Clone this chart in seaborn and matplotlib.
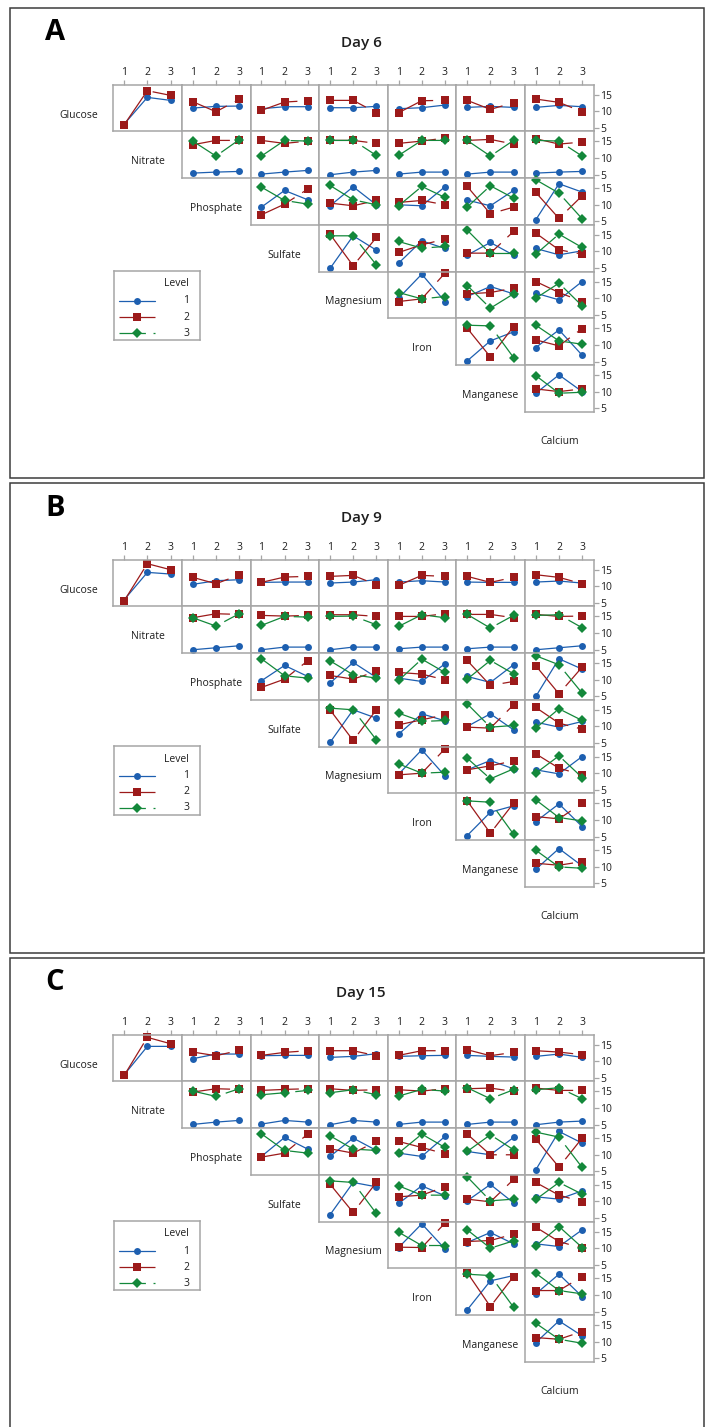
import matplotlib
matplotlib.use("Agg")
import matplotlib.pyplot as plt
import pandas as pd
import seaborn as sns
from matplotlib.patches import Rectangle

sns.set_theme(style="white")
plt.rcParams["font.family"] = ["Open Sans", "DejaVu Sans"]
plt.rcParams["lines.scale_dashes"] = False

FACTORS = ["Glucose", "Nitrate", "Phosphate", "Sulfate", "Magnesium", "Iron", "Manganese", "Calcium"]
LEVELS = ["1", "2", "3"]
DAYS = ["Day 6", "Day 9", "Day 15"]
PANELS = ["A", "B", "C"]
Y_TICKS = [5, 10, 15]

# Mean response for every pair of factors.
# One array per (day, line factor). Each entry is one x-factor (the factors after the
# line factor, up to Calcium) and holds one series per level of the line factor,
# over x-factor levels 1, 2, 3.
DAY6_GLUCOSE = [
    [[6.2, 14.2, 13.3], [6.0, 16.2, 14.8]],
    [[11.0, 11.5, 11.6], [12.9, 9.9, 13.6]],
    [[10.8, 11.4, 11.4], [10.3, 12.8, 13.2]],
    [[11.1, 11.1, 11.5], [13.3, 13.3, 9.6]],
    [[10.8, 11.1, 11.9], [9.6, 13.2, 13.3]],
    [[11.2, 11.5, 11.2], [13.3, 10.6, 12.6]],
    [[11.2, 11.8, 11.4], [13.7, 12.7, 9.9]],
]
DAY6_NITRATE = [
    [[5.5, 5.8, 6.0], [14.0, 15.3, 15.3], [15.1, 10.6, 15.5]],
    [[5.2, 5.8, 6.3], [15.3, 14.4, 15.1], [10.6, 15.3, 15.1]],
    [[5.0, 5.8, 6.3], [15.3, 15.3, 14.4], [15.3, 15.3, 10.8]],
    [[5.2, 5.8, 5.8], [14.4, 15.1, 16.0], [10.8, 15.3, 15.3]],
    [[5.2, 5.8, 5.8], [15.3, 15.6, 14.2], [15.3, 10.6, 15.3]],
    [[5.5, 5.8, 6.0], [15.8, 14.2, 14.8], [15.3, 15.1, 10.6]],
]
DAY6_PHOSPHATE = [
    [[9.3, 14.3, 11.5], [7.0, 10.2, 14.7], [15.3, 11.3, 10.2]],
    [[9.7, 15.4, 10.0], [10.5, 9.7, 11.3], [15.8, 11.5, 10.0]],
    [[10.0, 9.7, 15.4], [10.7, 11.3, 10.0], [9.7, 15.5, 12.2]],
    [[11.4, 9.7, 14.3], [15.5, 7.3, 9.3], [9.3, 15.7, 12.0]],
    [[5.5, 16.3, 13.8], [13.7, 5.9, 12.7], [17.5, 13.5, 5.8]],
]
DAY6_SULFATE = [
    [[4.9, 14.7, 10.4], [15.2, 5.7, 14.2], [14.7, 14.7, 6.0]],
    [[6.5, 13.2, 10.9], [9.7, 12.0, 13.7], [13.0, 11.0, 11.5]],
    [[8.9, 12.7, 8.9], [9.5, 9.5, 16.0], [16.4, 9.4, 9.4]],
    [[10.9, 9.0, 10.2], [15.5, 10.5, 9.2], [9.2, 15.2, 11.2]],
]
DAY6_MAGNESIUM = [
    [[10.0, 17.2, 9.0], [9.0, 9.8, 17.5], [11.7, 9.8, 10.5]],
    [[10.5, 13.5, 11.3], [11.3, 11.7, 13.0], [13.8, 7.0, 11.3]],
    [[11.5, 9.5, 15.0], [15.0, 11.7, 9.0], [10.0, 14.5, 7.7]],
]
DAY6_IRON = [
    [[5.2, 11.2, 13.9], [15.0, 6.4, 15.5], [15.9, 15.7, 6.2]],
    [[9.2, 14.5, 6.9], [11.5, 9.7, 14.9], [15.9, 11.2, 10.2]],
]
DAY6_MANGANESE = [
    [[9.5, 15.0, 10.0], [10.8, 10.0, 10.8], [14.8, 9.5, 9.8]],
]

DAY9_GLUCOSE = [
    [[6.0, 14.2, 13.7], [5.7, 16.8, 15.0]],
    [[10.6, 11.7, 12.0], [12.7, 10.8, 13.4]],
    [[11.2, 11.3, 11.3], [11.2, 12.8, 13.0]],
    [[11.0, 11.3, 12.0], [13.0, 13.3, 10.5]],
    [[11.3, 11.7, 11.3], [10.3, 13.3, 13.0]],
    [[11.3, 11.2, 11.2], [13.0, 11.2, 12.7]],
    [[11.3, 11.6, 11.0], [13.5, 12.7, 10.8]],
]
DAY9_NITRATE = [
    [[5.0, 5.6, 6.2], [14.6, 15.8, 15.6], [14.6, 12.1, 15.8]],
    [[5.0, 5.8, 5.8], [15.3, 15.1, 15.3], [12.3, 15.0, 14.8]],
    [[5.0, 5.8, 5.8], [15.5, 15.5, 15.0], [15.0, 15.1, 12.5]],
    [[5.3, 5.8, 5.8], [15.0, 15.0, 15.8], [12.0, 15.5, 14.6]],
    [[5.3, 5.8, 5.8], [15.6, 15.6, 14.6], [15.6, 11.5, 15.3]],
    [[5.0, 5.6, 6.2], [15.6, 15.0, 15.1], [15.3, 15.5, 11.6]],
]
DAY9_PHOSPHATE = [
    [[9.7, 14.3, 11.0], [7.7, 10.2, 15.7], [16.3, 11.2, 10.5]],
    [[9.0, 15.2, 10.7], [11.3, 10.2, 12.5], [15.7, 11.5, 10.5]],
    [[10.5, 9.5, 14.8], [12.2, 11.7, 10.0], [9.8, 16.2, 12.2]],
    [[11.0, 9.2, 14.5], [15.8, 8.3, 9.5], [10.2, 15.8, 11.8]],
    [[5.0, 16.3, 13.2], [14.2, 5.8, 13.8], [17.2, 14.5, 6.0]],
]
DAY9_SULFATE = [
    [[5.2, 15.0, 12.5], [15.0, 5.8, 15.0], [15.5, 15.0, 6.0]],
    [[7.7, 13.8, 11.7], [10.5, 12.0, 13.5], [14.0, 11.5, 11.8]],
    [[10.0, 13.8, 9.0], [9.8, 9.5, 16.5], [16.8, 9.8, 10.3]],
    [[11.3, 9.8, 11.5], [15.7, 11.0, 9.2], [9.5, 15.3, 11.8]],
]
DAY9_MAGNESIUM = [
    [[9.7, 17.0, 9.2], [9.5, 10.0, 17.3], [12.8, 10.0, 10.3]],
    [[11.0, 13.8, 11.3], [11.0, 12.2, 13.7], [14.5, 8.3, 11.3]],
    [[11.0, 9.8, 15.0], [15.8, 11.5, 9.5], [10.0, 15.2, 8.7]],
]
DAY9_IRON = [
    [[5.3, 12.3, 14.2], [15.7, 6.0, 15.0], [15.7, 15.3, 5.7]],
    [[9.5, 14.8, 8.0], [11.0, 10.3, 15.0], [16.0, 10.7, 9.7]],
]
DAY9_MANGANESE = [
    [[9.2, 15.4, 10.2], [11.0, 10.4, 11.5], [14.9, 9.9, 9.5]],
]

DAY15_GLUCOSE = [
    [[6.0, 14.5, 14.5], [5.8, 17.2, 15.3]],
    [[10.8, 12.2, 12.2], [12.8, 11.7, 13.3]],
    [[11.7, 11.8, 11.8], [11.8, 12.7, 13.2]],
    [[11.2, 11.5, 12.3], [13.2, 13.2, 11.7]],
    [[11.5, 11.7, 11.8], [11.8, 13.2, 13.2]],
    [[11.8, 11.5, 11.3], [13.5, 11.7, 12.7]],
    [[11.5, 12.2, 11.2], [13.2, 12.8, 12.0]],
]
DAY15_NITRATE = [
    [[5.1, 5.8, 6.3], [14.8, 15.8, 15.6], [15.1, 13.5, 15.8]],
    [[5.2, 6.3, 5.8], [15.3, 15.6, 15.8], [14.0, 14.6, 15.3]],
    [[5.0, 6.3, 5.8], [15.8, 15.3, 15.5], [14.6, 15.5, 14.0]],
    [[5.1, 5.8, 5.8], [15.5, 15.1, 15.8], [13.6, 15.6, 15.1]],
    [[5.1, 5.8, 5.8], [15.8, 16.0, 15.0], [16.1, 12.8, 15.5]],
    [[5.0, 5.8, 6.1], [16.0, 15.3, 15.3], [15.5, 16.1, 12.8]],
]
DAY15_PHOSPHATE = [
    [[9.5, 15.2, 11.7], [9.3, 10.5, 16.2], [16.3, 11.3, 10.5]],
    [[9.5, 15.0, 11.3], [11.8, 10.5, 14.0], [15.7, 11.7, 11.3]],
    [[10.5, 9.5, 15.5], [14.0, 12.2, 10.3], [10.5, 16.2, 12.2]],
    [[11.0, 10.0, 15.2], [16.2, 10.0, 10.0], [11.0, 16.0, 11.5]],
    [[5.5, 17.0, 13.5], [14.7, 6.3, 15.0], [16.8, 15.3, 6.2]],
]
DAY15_SULFATE = [
    [[6.0, 15.7, 14.4], [15.2, 6.7, 15.7], [16.2, 15.7, 6.4]],
    [[9.4, 14.7, 11.7], [11.4, 11.9, 14.4], [14.7, 11.9, 11.9]],
    [[10.2, 15.1, 9.6], [10.7, 9.9, 16.6], [17.4, 10.2, 10.7]],
    [[11.4, 10.7, 13.2], [15.7, 11.9, 9.9], [10.6, 15.7, 12.2]],
]
DAY15_MAGNESIUM = [
    [[10.2, 17.3, 9.8], [10.3, 10.2, 17.5], [14.8, 10.8, 10.8]],
    [[11.7, 14.7, 11.3], [12.0, 12.3, 14.2], [15.5, 10.0, 12.2]],
    [[11.3, 10.5, 15.5], [16.3, 12.0, 10.0], [10.7, 16.5, 10.2]],
]
DAY15_IRON = [
    [[5.5, 14.2, 15.8], [16.7, 6.5, 15.5], [16.2, 15.8, 6.3]],
    [[10.3, 16.2, 9.5], [11.3, 11.3, 15.5], [16.5, 11.3, 10.3]],
]
DAY15_MANGANESE = [
    [[9.7, 16.2, 11.7], [11.2, 10.7, 13.0], [15.5, 10.7, 9.5]],
]

DAY_TABLES = [
    [DAY6_GLUCOSE, DAY6_NITRATE, DAY6_PHOSPHATE, DAY6_SULFATE, DAY6_MAGNESIUM, DAY6_IRON, DAY6_MANGANESE],
    [DAY9_GLUCOSE, DAY9_NITRATE, DAY9_PHOSPHATE, DAY9_SULFATE, DAY9_MAGNESIUM, DAY9_IRON, DAY9_MANGANESE],
    [DAY15_GLUCOSE, DAY15_NITRATE, DAY15_PHOSPHATE, DAY15_SULFATE, DAY15_MAGNESIUM, DAY15_IRON, DAY15_MANGANESE],
]

# Styling per level
PALETTE = {"1": "#1d5fb0", "2": "#9c1a1a", "3": "#13883a"}
MARKERS = {"1": "o", "2": "s", "3": "D"}
DASHES = {"1": "", "2": (27.0, 6.5), "3": (19.0, 5.5)}
MARKER_SIZE = {"o": 5.0, "s": 5.4, "D": 5.0}
FRAME = "#a6a6a6"
TEXT = "#1e1e1e"

W, H, DPI = 705, 1427, 100
fig = plt.figure(figsize=(W / DPI, H / DPI), dpi=DPI)
fig.patch.set_facecolor("white")


def rect(x, y, w, h):
    return [x / W, 1 - (y + h) / H, w / W, h / H]


def fx(x):
    return x / W


def fy(y):
    return 1 - y / H


X0, Y0 = 113.3, 84.7
CW, CH = 68.6, 46.7
STEP = 475

for p, (letter, day, tables) in enumerate(zip(PANELS, DAYS, DAY_TABLES)):
    oy = p * STEP
    fig.add_artist(Rectangle((fx(10), fy(478 + oy)), 694 / W, 470 / H,
                             transform=fig.transFigure, fill=False,
                             ec="#3c3c3c", lw=1.1))
    fig.text(fx(55), fy(33 + oy), letter, fontsize=21, fontweight="bold",
             ha="center", va="center", color="black")
    fig.text(fx(361), fy(43 + oy), day, fontsize=11, fontweight="semibold",
             ha="center", va="center", color=TEXT)

    for r, table in enumerate(tables):
        for j, means in enumerate(table):
            c = r + j
            ax = fig.add_axes(rect(X0 + c * CW, Y0 + oy + r * CH, CW, CH))
            rows = [(LEVELS[i], int(x), v)
                    for i, series in enumerate(means)
                    for x, v in zip(LEVELS, series)]
            df = pd.DataFrame(rows, columns=["level", "x", "y"])
            sns.lineplot(data=df, x="x", y="y", hue="level", style="level",
                         palette=PALETTE, markers=MARKERS, dashes=DASHES,
                         errorbar=None, legend=False, ax=ax,
                         lw=0.9, markeredgewidth=0)
            for ln in ax.get_lines():
                ln.set_markersize(MARKER_SIZE.get(ln.get_marker(), 5.0))
                ln.set_clip_on(False)
            ax.set_xlim(0.53, 3.49)
            ax.set_ylim(4.0, 18.0)
            ax.set_xlabel("")
            ax.set_ylabel("")
            ax.set_facecolor("white")
            for s in ax.spines.values():
                s.set_visible(True)
                s.set_color(FRAME)
                s.set_linewidth(1.1)
            if r == 0:
                ax.xaxis.tick_top()
                ax.set_xticks([1, 2, 3])
                ax.set_xticklabels(LEVELS)
            else:
                ax.set_xticks([])
            if c == 6:
                ax.yaxis.tick_right()
                ax.set_yticks(Y_TICKS)
                ax.set_yticklabels([str(t) for t in Y_TICKS])
            else:
                ax.set_yticks([])
            ax.tick_params(length=3.5, width=0.9, color=FRAME, labelsize=7.5,
                           labelcolor=TEXT, pad=1.5)

    # factor names on the diagonal
    for k, name in enumerate(FACTORS):
        cx = X0 + (k - 1) * CW + CW / 2
        cy = Y0 + oy + k * CH + CH / 2 + 7
        fig.text(fx(cx), fy(cy), name, fontsize=7.5, ha="center", va="center",
                 color=TEXT)

    # level key
    lg = fig.add_axes(rect(114, 271 + oy, 86, 69))
    lg.set_xlim(0, 86)
    lg.set_ylim(69, 0)
    lg.set_xticks([])
    lg.set_yticks([])
    lg.set_facecolor("white")
    for s in lg.spines.values():
        s.set_color(FRAME)
        s.set_linewidth(1.1)
    lg.text(75, 13, "Level", fontsize=7.5, ha="right", va="center", color=TEXT)
    for i, lvl in enumerate(LEVELS):
        yy = 30 + 16 * i
        ln, = lg.plot([5, 41], [yy, yy], color=PALETTE[lvl], lw=0.9)
        if DASHES[lvl]:
            ln.set_dashes(DASHES[lvl])
        lg.plot([23], [yy], marker=MARKERS[lvl], color=PALETTE[lvl], ls="",
                markersize=MARKER_SIZE[MARKERS[lvl]], markeredgewidth=0)
        lg.text(75, yy, lvl, fontsize=7.5, ha="right", va="center", color=TEXT)

fig.savefig("out.png", dpi=DPI, facecolor="white")
